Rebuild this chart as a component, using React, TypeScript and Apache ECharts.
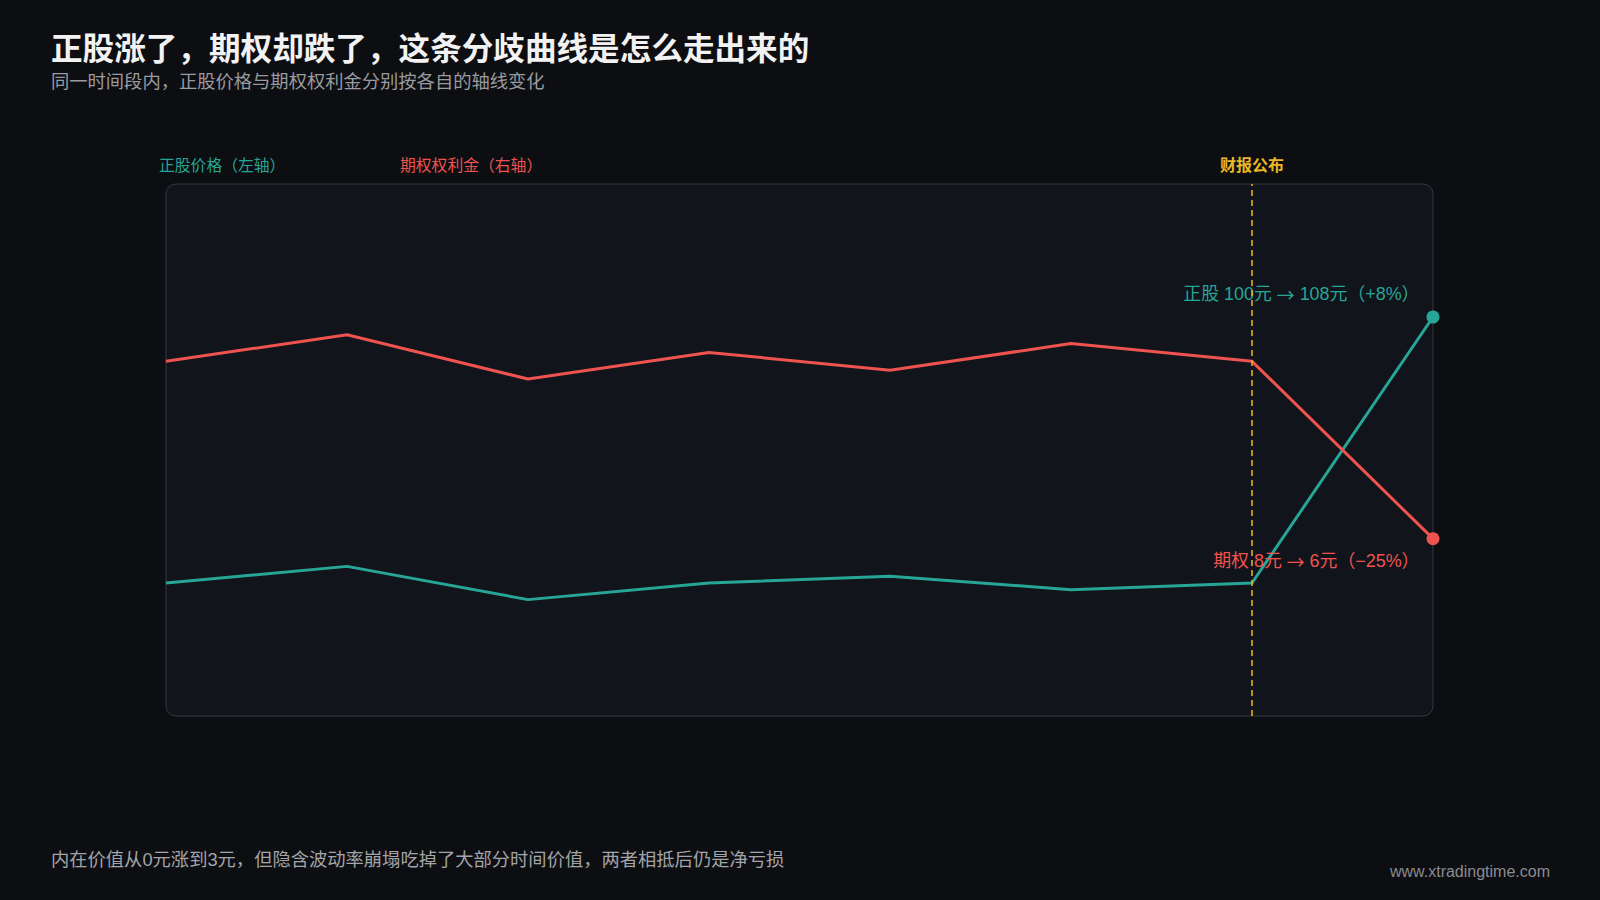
import React, { useEffect, useRef } from "react";
import * as echarts from "echarts";

const categories = ["D1", "D2", "D3", "D4", "D5", "D6", "D7", "D8"];
const stockPrice = [100, 100.5, 99.5, 100, 100.2, 99.8, 100, 108];
const optionPremium = [8, 8.3, 7.8, 8.1, 7.9, 8.2, 8, 6];
const eventCategory = "D7";
const eventLabel = "财报公布";

const titleText = "正股涨了，期权却跌了，这条分歧曲线是怎么走出来的";
const subtitleText = "同一时间段内，正股价格与期权权利金分别按各自的轴线变化";
const stockAxisName = "正股价格（左轴）";
const optionAxisName = "期权权利金（右轴）";
const stockEndFrom = "正股 100元 ";
const stockEndTo = " 108元（+8%）";
const optionEndFrom = "期权 8元 ";
const optionEndTo = " 6元（−25%）";
const arrow = "→";
const footerText = "内在价值从0元涨到3元，但隐含波动率崩塌吃掉了大部分时间价值，两者相抵后仍是净亏损";
const siteText = "www.xtradingtime.com";

const TEAL = "#27a597";
const RED = "#ef5350";
const YELLOW = "#e9b824";
const FONT = '"Noto Sans CJK SC", "Noto Sans", sans-serif';
const MIXED = '"Liberation Sans", "Noto Sans CJK SC", sans-serif';

export default function App() {
  const ref = useRef<HTMLDivElement>(null);

  useEffect(() => {
    if (!ref.current) return;
    const chart = echarts.init(ref.current, null, { renderer: "svg" });
    const last = categories.length - 1;

    const grid = { left: 166, right: 167, top: 184, height: 532 };

    const mkData = (
      arr: number[],
      from: string,
      to: string,
      color: string,
      offsetY: number
    ) =>
      arr.map((v, i) =>
        i === last
          ? {
              value: v,
              symbolSize: 13,
              label: {
                show: true,
                formatter: `{t|${from}}{a|${arrow}}{t|${to}}`,
                position: "left",
                offset: [-2, offsetY],
                rich: {
                  t: { fontSize: 17.9, fontFamily: MIXED, color },
                  a: { fontSize: 17.9, fontFamily: FONT, color },
                },
              },
            }
          : { value: v, symbolSize: 0 }
      );

    chart.setOption({
      animation: false,
      backgroundColor: "#0d0e12",
      textStyle: { fontFamily: FONT },
      grid,
      xAxis: {
        type: "category",
        data: categories,
        boundaryGap: false,
        show: false,
      },
      yAxis: [
        { type: "value", min: 96, max: 112, show: false, splitLine: { show: false } },
        { type: "value", min: 4, max: 10, show: false, splitLine: { show: false } },
      ],
      graphic: [
        {
          type: "rect",
          z: 0,
          shape: { x: 166, y: 184, width: 1267, height: 532, r: 10 },
          style: { fill: "#11141a", stroke: "#35383f", lineWidth: 1 },
        },
        {
          type: "text",
          x: 51,
          y: 46,
          style: {
            text: titleText,
            fill: "#f2f2f2",
            font: `bold 31.6px ${FONT}`,
            verticalAlign: "middle",
          },
        },
        {
          type: "text",
          x: 51,
          y: 81,
          style: {
            text: subtitleText,
            fill: "#9a9ba0",
            font: `18.3px ${MIXED}`,
            verticalAlign: "middle",
          },
        },
        {
          type: "text",
          x: 159,
          y: 164,
          style: {
            text: stockAxisName,
            fill: TEAL,
            font: `15.8px ${FONT}`,
            verticalAlign: "middle",
          },
        },
        {
          type: "text",
          x: 400,
          y: 164,
          style: {
            text: optionAxisName,
            fill: RED,
            font: `15.8px ${FONT}`,
            verticalAlign: "middle",
          },
        },
        {
          type: "text",
          x: 51,
          y: 859,
          style: {
            text: footerText,
            fill: "#a3a4a8",
            font: `18.3px ${MIXED}`,
            verticalAlign: "middle",
          },
        },
        {
          type: "text",
          x: 1550,
          y: 871,
          style: {
            text: siteText,
            fill: "#8a8b90",
            font: `16px ${MIXED}`,
            align: "right",
            verticalAlign: "middle",
          },
        },
      ],
      series: [
        {
          name: stockAxisName,
          type: "line",
          yAxisIndex: 0,
          z: 3,
          data: mkData(stockPrice, stockEndFrom, stockEndTo, TEAL, -23),
          symbol: "circle",
          showSymbol: true,
          lineStyle: { color: TEAL, width: 3 },
          itemStyle: { color: TEAL },
          markLine: {
            silent: true,
            symbol: "none",
            lineStyle: { color: YELLOW, type: [6, 4], width: 1.5 },
            label: {
              show: true,
              position: "end",
              formatter: eventLabel,
              color: YELLOW,
              fontWeight: "bold",
              fontSize: 16,
              fontFamily: FONT,
              distance: 12,
            },
            data: [{ xAxis: eventCategory }],
          },
        },
        {
          name: optionAxisName,
          type: "line",
          yAxisIndex: 1,
          z: 3,
          data: mkData(optionPremium, optionEndFrom, optionEndTo, RED, 22),
          symbol: "circle",
          showSymbol: true,
          lineStyle: { color: RED, width: 3 },
          itemStyle: { color: RED },
        },
      ],
    });

    return () => chart.dispose();
  }, []);

  return (
    <div
      ref={ref}
      style={{ position: "fixed", left: 0, top: 0, width: 1600, height: 900 }}
    />
  );
}
